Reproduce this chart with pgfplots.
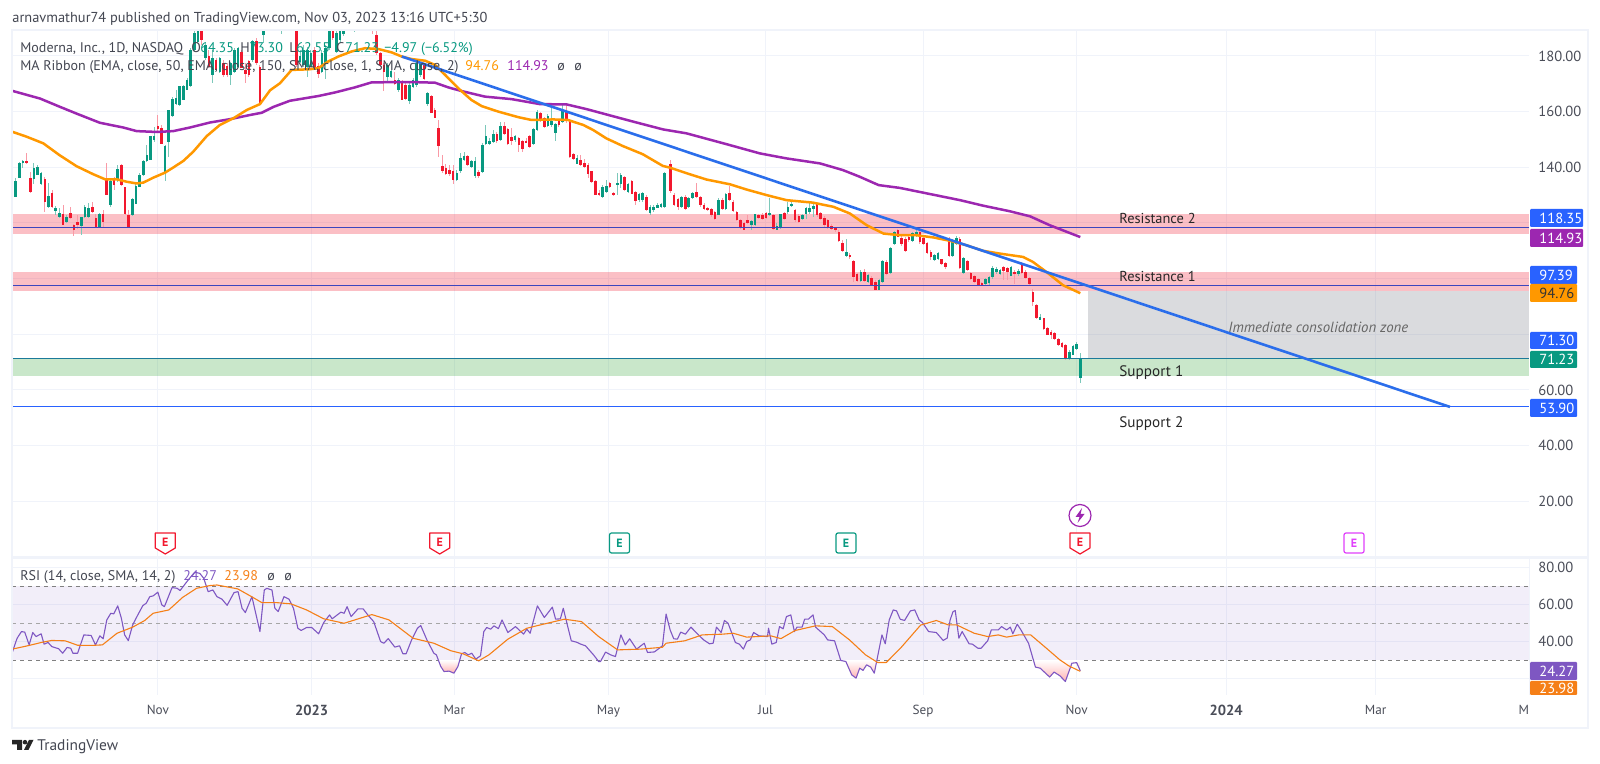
\documentclass[border=0pt]{standalone}
\usepackage{fontspec}
\usepackage{pgfplots}
\usepackage{pgfplotstable}
\pgfplotsset{compat=1.18}
\setmainfont{PT Sans}
\definecolor{tvgreen}{HTML}{089981}
\definecolor{tvred}{HTML}{F2182E}
\definecolor{wgreen}{HTML}{7CC8BA}
\definecolor{wred}{HTML}{F99AA6}
\definecolor{tvblue}{HTML}{2962FF}
\definecolor{trend}{HTML}{2B6EEB}
\definecolor{ema}{HTML}{FF9800}
\definecolor{emb}{HTML}{9C27B0}
\definecolor{rsi}{HTML}{7E57C2}
\definecolor{rsima}{HTML}{F57F17}
\definecolor{gridc}{HTML}{F0F3FA}
\definecolor{txt}{HTML}{434651}
\definecolor{axt}{HTML}{4A4D58}
\newcommand\fs{\fontsize{6.6}{8}\selectfont}
\newcommand\fl{\fontsize{7}{8}\selectfont}
\newcommand\fn{\fontsize{7.3}{8}\selectfont}
\pgfplotstableread{
x o h l c
0 138.0 139.0 132.4 133.0
1 129.6 136.0 129.4 135.1
2 136.3 142.0 136.0 141.4
3 141.6 142.5 139.9 142.2
4 142.0 145.0 141.3 141.6
5 136.2 138.4 130.9 131.2
6 136.0 141.7 133.9 139.5
7 137.5 140.8 137.1 139.9
8 134.2 138.4 133.6 137.8
9 135.7 136.6 124.0 127.6
10 125.8 134.2 125.2 129.7
11 130.5 131.8 125.2 125.8
12 124.5 126.1 122.8 125.2
13 122.4 125.2 121.9 123.4
14 123.1 126.4 119.2 119.4
15 120.4 122.8 120.0 122.2
16 123.6 125.8 121.6 121.8
17 119.2 119.8 115.3 117.4
18 120.4 122.8 118.0 119.2
19 118.9 122.2 115.6 121.9
20 122.2 126.4 121.8 125.8
21 122.2 127.0 121.8 125.4
22 125.8 127.6 123.6 124.0
23 121.6 123.4 118.6 118.8
24 118.8 123.6 118.6 123.1
25 123.1 124.6 118.6 120.4
26 135.6 141.4 130.0 130.3
27 126.4 135.4 125.8 134.8
28 135.7 136.6 131.8 133.9
29 135.4 140.8 134.8 139.2
30 140.8 141.1 133.2 133.6
31 132.7 133.0 122.8 123.4
32 122.8 124.6 118.1 118.3
33 122.8 128.8 122.4 128.4
34 127.0 134.2 126.7 133.2
35 133.2 138.1 133.0 137.2
36 137.2 142.6 136.8 142.0
37 142.3 148.0 142.0 144.4
38 142.8 151.2 142.6 151.0
39 149.8 154.6 149.2 151.0
40 154.6 158.8 152.2 154.0
41 154.2 155.2 148.2 148.6
42 138.4 148.0 135.1 147.4
43 149.2 160.6 143.8 160.6
44 158.4 165.4 157.9 164.4
45 162.7 167.8 162.4 164.8
46 162.4 169.2 162.0 169.0
47 164.4 169.6 164.2 169.0
48 168.0 172.0 167.8 171.4
49 169.2 182.8 169.0 182.2
50 182.2 188.8 181.9 188.2
51 185.2 193 184.5 191
52 188.7 190.5 184 185.7
53 179.2 184.6 178.6 184.0
54 179.8 182.2 175.6 176.2
55 173.2 182.2 170.4 179.2
56 178.3 179.2 174.7 175.2
57 174.4 179.8 174.0 179.2
58 177.4 178.6 172.6 173.2
59 176.2 177.4 172.3 173.2
60 173.2 178.0 169.6 177.4
61 174.4 182.8 173.8 182.2
62 176.2 183.4 175.6 182.8
63 181.2 182.2 175.6 175.9
64 175.0 177.4 170.2 173.8
65 178.0 178.6 172.6 173.2
66 178.6 185.8 178.0 185.2
67 185.2 186.4 176.8 177.6
68 175.9 176.8 162.7 163.0
69 187.5 194 184.5 192
70 192 194 189.5 190
71 192 197 191 196
72 196 201 195 200
73 200 202 195 196
74 191 194 188 193
75 196 197 190 193
76 193 199 192 198
77 199 201 191 194
78 195 196 176 176.8
79 177.9 182.2 177.4 179.8
80 176.8 184 176.2 182.2
81 176.2 183.4 172.6 182.2
82 176.2 182.2 176 181
83 182.2 183.4 175 175.6
84 176.2 177.4 172 173.8
85 174.4 182.2 173.8 181
86 177.4 184 171.6 182.8
87 182.8 190 182.2 189.4
88 188.8 190 185.8 186.7
89 181.6 189.4 181 188.2
90 185.8 192 184.5 190.5
91 188 193 187 191
92 194 195 190 191
93 191 196 190 195
94 195 199 188.7 198
95 198 199 194 195
96 195 198 194 197
97 197 198 192 194
98 194 197 193 196
99 196 197 187.9 192
100 187.5 195 180.4 181
101 181 181.6 176.2 176.8
102 176.8 177.4 167.5 174.4
103 172.5 177.4 170.8 176.8
104 172.5 175 172 174.4
105 171.4 174.4 169.6 170.2
106 167.8 172 167.2 171.4
107 170.8 171.4 164.2 164.4
108 169.6 170.2 164.2 164.8
109 163.9 170.2 162.7 169.6
110 169 172 168.4 171.4
111 169.6 178 169 177.4
112 173.2 178 172.6 177.4
113 176.8 177.4 171.4 172
114 162.7 167.2 162.2 166.6
115 165.6 166 159.4 159.7
116 160.6 161.2 157.6 157.9
117 154 157 143.8 147.6
118 140.4 144.4 138 138.6
119 139.6 141.1 137.2 137.8
120 139 140.8 136.9 137.8
121 138.4 140.8 133.9 135.4
122 135.4 139 135.1 138
123 138.6 145.2 138 143.2
124 142.9 145.6 142.3 144
125 143.8 144.4 140.4 140.8
126 140.2 142.6 139.9 142
127 136.9 143.8 136 142
128 138.1 139 136 136.8
129 138.4 148.6 138 148
130 148.3 155.2 148 151
131 148.3 150.4 148 149.4
132 149.2 153.4 148.8 151.9
133 151.9 152.8 148.6 149.5
134 149.8 156.4 149.4 154.6
135 154.8 156.4 151.6 152
136 153.6 154.3 148 148.3
137 150.7 154 148 149.4
138 149.8 151.6 149.2 151
139 150.4 151 145.6 148
140 149.2 149.8 145.6 146.8
141 149.5 150.4 148.6 149
142 151 151.6 146.8 147.4
143 148.3 154.3 148 153.7
144 153.4 160.6 153 159.7
145 159.4 160 156.4 156.7
146 157.6 158.2 154 154.6
147 154.8 159 154.6 158.4
148 155.2 161.2 154.6 156.4
149 152.4 156 149.5 155.4
150 156.4 157 154.6 155.2
151 156.4 162.4 156 160.6
152 160 163.2 156 157
153 156.7 157.2 143.5 143.8
154 144.7 145.2 142.6 143.2
155 141.4 144.4 141.1 143.2
156 142.6 144.4 140.4 140.8
157 141.4 142.9 139.9 140.2
158 140.8 141.4 136 137.8
159 138.4 138.7 134.2 134.8
160 135.1 135.4 130 130.3
161 130.6 131.8 129.8 130
162 129.4 133.6 129.1 133
163 131.2 135.4 130.6 133.2
164 134.2 134.8 132.4 133
165 130.6 131.2 129.6 130
166 133.8 138 130 134.2
167 134.2 138 132.4 137
168 136.4 136.8 131.5 132
169 131.2 134.4 130.8 133.8
170 135 135.6 130.3 130.6
171 130.9 131.5 126.4 127.9
172 128.2 130.8 127.6 130.3
173 128.2 131.2 127.6 130.6
174 129.4 130 124.3 124.8
175 123.6 126.4 122.8 125.5
176 124.6 126.4 124 125.8
177 125.5 127 125.2 126.4
178 125.8 127.2 125.4 126.8
179 125.8 138.4 125.4 138
180.6 141.1 142.8 130.6 131.5
181.6 130 130.6 126 126.4
182.7 128.4 129.1 124.6 126
183.7 126 129.6 125.5 129.1
184.7 129.1 130 124.6 125.2
185.6 125.8 129.4 125.4 128.8
186.7 129.1 131.2 128.6 130.6
187.7 130.9 134.4 128.8 129.4
188.8 129.1 129.6 125.8 126.4
189.8 126.4 127 124.6 125
190.8 125.3 125.8 124.3 124.8
191.8 124.8 125.3 122.2 122.8
192.8 123.7 124.3 121.2 121.6
193.8 123.1 128.8 122.8 128.2
194.8 128.2 128.8 124.6 125.2
195.8 125.2 130.6 124.8 130.2
196.8 130.8 133.2 128 128.4
197.8 127.6 128.2 124 124.3
198.8 123.7 124.3 120.7 121
199.8 121 121.6 118 118.3
200.8 119.8 120.4 117.4 117.6
201.8 121 122.8 119.5 120
202.8 119.2 121.2 117.4 120.5
203.8 119.5 123.4 119 123
204.8 122.8 123.4 121.5 122
205.8 122.8 123.6 121 121.6
206.8 123.4 123.8 121.5 122
207.8 122.8 129.1 122.4 123.4
208.8 122.8 123.4 117.4 118
209.8 117.7 120 117.4 118.8
210.8 118.4 123.4 118 123
211.8 123.4 124 121 121.6
212.8 124 127.6 123.4 125.8
213.8 126.3 128.2 125.8 126.6
214.8 124.6 125 120.4 121
215.8 122.4 123.1 120 120.4
216.8 121.6 123.4 121 122.8
217.8 123.4 125.8 121.6 125.2
218.8 124 127.6 123.4 125.2
219.8 125.2 127.2 122 126
220.8 126.8 127.2 122.2 122.8
221.8 123.4 124 121 121.6
222.8 121.6 122.4 118.6 119.2
223.8 121 121.6 118 118.6
224.8 118.8 119.5 117.4 118
225.8 118 118.6 116.8 117.4
226.8 116.8 117.4 113.2 113.5
227.8 112.6 113.8 109.6 109.9
228.8 108.4 114.4 107.8 109.6
229.8 108.4 109.2 107.2 107.8
230.8 106.4 106.8 98.8 100.6
231.8 101.4 102 98.9 99.4
232.8 99.4 103 98.9 102.4
233.8 102.4 103.6 98.9 99.4
234.8 98.8 101.8 98.4 101.2
235.8 100.2 100.8 97.2 97.6
236.8 98.8 99.4 95.8 96
237.8 96 100 95.8 99.4
238.8 98.8 106.6 98.4 106.2
239.8 106 106.6 101.2 101.6
241 102 111.4 101.6 110.8
242 112.6 117.2 112 116.6
243 117.4 118 114.8 115.2
244 114.6 115.2 111.6 112.4
245 114 114.8 109.6 110.2
246 115 115.6 113.2 113.8
247 113.6 116.8 113.2 116.2
248 115.6 117.4 115 116.8
249 116.6 117.2 112.6 113.2
250 114.4 115.6 112 112.6
251 112.6 113.2 109 109.2
252 109.6 110.2 106.8 107.8
253 106.8 109 106.4 108.4
254 107.2 109.6 106.6 109.2
255 106.8 107.2 104.8 105.4
256 105.4 106 103.4 104.2
257 114 114.8 107.8 108.4
258 108.4 114.4 107.8 113.8
259 112.6 115.2 112 114.4
260 114 114.8 103.4 103.8
261 102 107.8 101.6 107.2
262 106.4 106.8 102.8 103.2
263 101.8 102.4 99.4 100
264 100.8 101.3 98.4 98.8
265 99.6 100.4 97.2 97.6
266 98.4 98.9 97.5 98
267 98.2 100.1 97.7 99.6
268 98.4 100.8 97.6 100.4
269 100.6 104.4 100 103.6
270 102.4 104.2 101.8 103.4
271 101.8 103.6 101.2 103
272 104 104.4 99.4 102.8
273 103.6 104.2 99.6 102.4
274 101.2 104.4 100.8 104
275 102.4 103 98.2 101.8
276 101.6 103.6 101 102.8
277 105.4 106 101.6 102
278 102.4 103 99.9 100.4
279 100 100.6 97.6 98
280 95.2 96.4 90 91.6
281 90.4 90.8 85.6 86
282 85.2 87.4 85 86
283 85.6 86 81.6 82
284 82 82.6 79.6 80
285 80.8 81.4 78.4 79.8
286 80.2 80.7 77.8 78.4
287 78.2 78.5 75.9 76.2
288 76.6 77.1 74.9 75.4
289 75.9 76.4 70.8 71.2
290 71.2 74.2 70.8 73.6
291 72.8 76.2 72.4 75.8
292 74.8 77.2 74.4 76.4
293 64.35 73.30 62.55 71.23
}\candles
\begin{document}
\begin{tikzpicture}
\path[use as bounding box] (0,0) rectangle (800pt,382pt);
\begin{axis}[
  name=main, at={(6pt,103pt)}, anchor=south west, scale only axis,
  width=758.5pt, height=264pt,
  xmin=0, xmax=416.07, ymin=-0.38, ymax=189.34,
  axis line style={draw=none}, tick style={draw=none},
  xtick={40,82.2,121.3,163.6,206.7,249.9,292,333,374}, xticklabels={},
  ytick={20,40,60,80,100,120,140,160,180},
  yticklabels={20.00,40.00,60.00,,,,140.00,160.00,180.00},
  yticklabel pos=right,
  yticklabel style={anchor=west, inner sep=0pt, xshift=4.5pt, font=\fn, text=axt},
  grid=major, major grid style={color=gridc, line width=0.5pt},
]
\addplot[fill={rgb,255:red,120;green,123;blue,134}, fill opacity=.27, draw=none] coordinates {(295.1,95.6)(416.07,95.6)(416.07,71.3)(295.1,71.3)} --cycle;
\addplot[fill=tvred, fill opacity=.28, draw=none] coordinates {(0,123.2)(416.07,123.2)(416.07,116)(0,116)} --cycle;
\addplot[fill=tvred, fill opacity=.28, draw=none] coordinates {(0,102.3)(416.07,102.3)(416.07,95.6)(0,95.6)} --cycle;
\addplot[fill={rgb,255:red,76;green,175;blue,80}, fill opacity=.3, draw=none] coordinates {(0,71.3)(416.07,71.3)(416.07,65)(0,65)} --cycle;
% candles: wicks then bodies
\addplot[draw=none, mark=none, error bars/.cd, y dir=both, y explicit, error mark=none, error bar style={line width=.5pt,color=wgreen}]
  table[x=x, y expr={\thisrow{c}>=\thisrow{o} ? (\thisrow{h}+\thisrow{l})/2 : nan}, y error expr={(\thisrow{h}-\thisrow{l})/2}]{\candles};
\addplot[draw=none, mark=none, error bars/.cd, y dir=both, y explicit, error mark=none, error bar style={line width=.5pt,color=wred}]
  table[x=x, y expr={\thisrow{c}<\thisrow{o} ? (\thisrow{h}+\thisrow{l})/2 : nan}, y error expr={(\thisrow{h}-\thisrow{l})/2}]{\candles};
\addplot[draw=none, mark=none, error bars/.cd, y dir=both, y explicit, error mark=none, error bar style={line width=1.3pt,color=tvgreen}]
  table[x=x, y expr={\thisrow{c}>=\thisrow{o} ? (\thisrow{o}+\thisrow{c})/2 : nan}, y error expr={abs(\thisrow{c}-\thisrow{o})/2+0.1}]{\candles};
\addplot[draw=none, mark=none, error bars/.cd, y dir=both, y explicit, error mark=none, error bar style={line width=1.3pt,color=tvred}]
  table[x=x, y expr={\thisrow{c}<\thisrow{o} ? (\thisrow{o}+\thisrow{c})/2 : nan}, y error expr={abs(\thisrow{c}-\thisrow{o})/2+0.1}]{\candles};
% horizontal levels
\addplot[color={rgb,255:red,60;green,70;blue,190}, line width=.6pt] coordinates {(0,118.35)(416.07,118.35)};
\addplot[color={rgb,255:red,60;green,70;blue,190}, line width=.6pt] coordinates {(0,97.39)(416.07,97.39)};
\addplot[color={rgb,255:red,27;green,122;blue,154}, line width=.7pt] coordinates {(0,71.3)(416.07,71.3)};
\addplot[color=tvblue, line width=.5pt] coordinates {(0,53.9)(416.07,53.9)};
% EMA 150
\addplot[color=emb, line width=1.25pt, line join=round] coordinates {(0,167.5)(7.7,164.7)(13.2,161.7)(17.7,159.3)(24.1,156)(30.5,154.3)(34.2,153)(39.7,152.7)(44.2,153)(48.8,154.3)(54.3,156.1)(59.8,157.3)(65.3,158.8)(68.5,159.6)(71.7,161.7)(76.2,163.9)(84,165.6)(88.6,166.9)(94,168.7)(98.6,170.5)(104.1,170.6)(110.5,170.6)(116,170.4)(119.7,168.7)(123.3,167.4)(129.7,165.4)(137,164.5)(144.8,162.7)(152.1,162.6)(157.6,160.9)(163,159)(170.4,156.4)(178.6,153.6)(185,152.2)(196,148.3)(205.1,145)(212.4,143.2)(221.6,141.4)(227.9,139)(232.5,136.6)(237.7,133.6)(243.5,132.6)(260,128.2)(266.4,126.2)(273.7,124.2)(279.2,122.4)(284.6,119.2)(293,114.93)};
% EMA 50
\addplot[color=ema, line width=1.25pt, line join=round] coordinates {(0,152.8)(4,151)(8.6,148.6)(13,144.4)(17.7,140.4)(22.3,137.5)(25.5,135.7)(28.7,135.7)(31.5,134.8)(34.2,134.2)(36,134.5)(38.8,136.3)(42,138.1)(44.2,139.9)(47,142.3)(49.7,145.6)(53.4,151.2)(57,155.2)(60.7,157.6)(64.4,160.6)(68,162.7)(70.8,167.7)(73.5,170.2)(76.7,175)(81.3,175.2)(84,175.6)(86.7,178)(89.5,179.8)(93.1,181.6)(96.8,182.8)(100.5,182.5)(104.1,181.3)(106.9,179.8)(109.6,178.9)(113.3,178.3)(116,176.8)(118.8,173.2)(122.4,168.4)(126,164.2)(128.8,162)(133.4,160)(138.9,158)(142.5,157)(148.4,157.2)(152.5,157)(156.7,155.2)(159.4,153.4)(163,150.4)(167.6,147.6)(173,144.7)(178.5,140.5)(180.4,139.9)(185.9,137.5)(190.5,135.6)(196.9,133.9)(201.5,132)(207,130)(212.4,128.2)(219.7,127.3)(225.3,125.8)(229.8,123.4)(234.4,119.2)(239,116.2)(243.5,115.6)(248,115.6)(252.7,114.8)(257.2,113.6)(261.8,112)(266.3,110)(270.9,109)(277.3,107.8)(280,106)(283.7,102.4)(288.3,97.6)(293,94.76)};
% trend line
\addplot[color=trend, line width=1.3pt] coordinates {(106.9,179.8)(394.4,53.9)};
\end{axis}
\begin{axis}[
  name=rsiax, at={(6pt,34.5pt)}, anchor=south west, scale only axis,
  width=758.5pt, height=68.5pt,
  xmin=0, xmax=416.07, ymin=11.2, ymax=85.3,
  axis line style={draw=none}, tick style={draw=none},
  xtick={40,82.2,121.3,163.6,206.7,249.9,292,333,374,416.07},
  xticklabels={Nov,{\fn\textbf{2023}},Mar,May,Jul,Sep,Nov,{\fn\textbf{2024}},Mar,\makebox[0pt][r]{M}},
  xticklabel style={font=\fs, text=axt, yshift=-1.5pt},
  ytick={20,40,60,80},
  yticklabels={,40.00,60.00,80.00},
  yticklabel pos=right,
  yticklabel style={anchor=west, inner sep=0pt, xshift=4.5pt, font=\fn, text=axt},
  grid=major, major grid style={color=gridc, line width=0.5pt},
]
\addplot[fill=rsi, fill opacity=.1, draw=none] coordinates {(0,70)(416.07,70)(416.07,30)(0,30)} --cycle;
\addplot[color=gray, line width=.4pt, dash pattern=on 2pt off 2pt] coordinates {(0,70)(416.07,70)};
\addplot[color=gray!70, line width=.4pt, dash pattern=on 2pt off 2pt] coordinates {(0,50)(416.07,50)};
\addplot[color=gray, line width=.4pt, dash pattern=on 2pt off 2pt] coordinates {(0,30)(416.07,30)};
\addplot[draw=none, top color=white, bottom color=red!30] coordinates {(117,30)(117.6,26.6)(118.5,23.9)(119.9,24.1)(121.2,23)(122.3,26.6)(122.8,30)} --cycle;
\addplot[draw=none, top color=white, bottom color=red!30] coordinates {(227.1,30)(228.7,29.3)(230.3,22.1)(231.5,20.3)(232.5,25.7)(233.4,24.5)(234.4,27.5)(235.5,26.3)(236.5,23)(237.2,30)} --cycle;
\addplot[draw=none, top color=white, bottom color=red!30] coordinates {(280.1,30)(280.7,26.3)(282,25.7)(284.6,20.9)(285.8,23.6)(287.4,21.6)(288.9,18.5)(290.7,28.4)(292,28.7)(293,24.27)(293,30)} --cycle;
\addplot[color=rsi, line width=.55pt, line join=round] coordinates {(0,33.8)(1.4,41.9)(2.6,45.5)(3.5,45.2)(4.7,38.3)(5.7,45)(6.6,42.8)(8,44.3)(8.8,38.7)(9.9,39.6)(10.9,37.4)(12.8,36.2)(13.9,33.8)(15.1,36.9)(16.1,36.5)(16.7,33.8)(18,33.8)(19.7,43.7)(21.7,43.4)(22.9,38.3)(24.1,43.2)(25,41.6)(26,51.8)(27.1,55.4)(27.9,55.1)(29,59.4)(30,52.7)(30.9,43.7)(31.9,40.6)(33.1,49.1)(34.5,54.5)(35.9,59.6)(36.8,60.8)(37.8,64.4)(38.7,64.8)(40,66.8)(41.1,59.9)(41.8,59)(43.9,69.3)(45.3,68.9)(46.1,67.7)(48.2,73.1)(50.1,77.6)(51.5,77)(52.6,74.3)(53.8,67.1)(55.1,68)(56.2,64.4)(57.6,63)(59,59.7)(60.9,66.6)(62,67.1)(63.1,58.1)(64,55.8)(65.8,64.4)(68,45.5)(69.2,68)(69.9,68.9)(71.3,68)(72.1,58.1)(73,56.3)(74.6,64.4)(76,63)(77.2,58.1)(78.4,47.3)(79.3,46.1)(80.8,47.7)(82.2,47.7)(84.1,44.3)(85.5,50.4)(87.1,54.5)(87.8,52.4)(90.2,56)(91.1,55.4)(91.9,59)(93,53.6)(94.9,57.8)(96.3,57.8)(97.8,54)(99.2,50.9)(101.1,40.1)(102,39.2)(103.2,41.7)(105,37.1)(106.3,37.8)(107.2,33.5)(108.1,33.5)(109.6,41)(111.2,47.3)(112.1,48.8)(113.8,41)(115.7,33.8)(116.4,32.9)(117.6,26.6)(118.5,23.9)(119.9,24.1)(121.2,23)(122.3,26.6)(123.3,33.5)(124.2,34.2)(125.1,32.9)(126.1,33.8)(127.2,30.6)(128.5,32.4)(129.4,45.5)(130.2,47.7)(131.3,46.8)(132.2,48.6)(133.4,47.1)(134.4,51.8)(136,45)(138.1,48.2)(140.3,44.1)(141.2,46.8)(142.1,44.6)(144.1,59.4)(146,53.1)(148.2,58.7)(149.1,52.2)(150.4,52.4)(151.2,58.1)(152.2,50)(153.4,40.5)(154.8,39.8)(156,38.7)(157.3,37.8)(159.5,32.9)(160.9,29.3)(161.4,29.3)(162.8,34.4)(164.2,32.9)(165.5,32)(167,43.7)(168.2,38.3)(169.4,41.6)(171.3,36)(173.4,39.2)(174.3,34.2)(176.2,34.5)(178.4,37.8)(179.4,55)(180.5,46.4)(181.5,41.6)(182.5,41.4)(183.4,45.2)(184.7,44.1)(186.2,47.9)(188.3,43.7)(189.7,41)(191.3,38.9)(192.3,39.2)(193.2,47.9)(194.5,45)(195.4,51.5)(196.4,50)(198.4,39.6)(199.5,38.7)(200.6,36)(201.5,40.1)(202.5,41)(203.4,45)(204.9,43.2)(207.2,42.8)(207.5,47.3)(208.4,38.7)(209.6,39.6)(210.5,48.2)(211.5,47)(212.4,53.6)(213.6,54.5)(214.6,45.5)(215.3,47.9)(216.7,47.9)(217.4,52.2)(218.4,52.2)(219.7,54.5)(220.4,47.9)(222.8,43.7)(223.7,41)(225.6,40.5)(227.3,29.9)(228.7,29.3)(230.3,22.1)(231.5,20.3)(232.5,25.7)(233.4,24.5)(234.4,27.5)(235.5,26.3)(236.5,23)(238.6,43.7)(239.5,38.9)(240.6,51.8)(241.7,57.2)(242.6,56.7)(243.6,52.2)(244.8,51.5)(246.4,56.7)(247.6,57.2)(248.8,51.8)(249.7,50.4)(251.4,45.5)(253.5,45)(255.4,40.7)(256.5,42)(257.3,51.8)(258.1,56.3)(258.7,56.9)(259.7,41.9)(260.6,45.5)(262.5,38.9)(263.4,38.7)(264.9,36.5)(265.8,36.5)(267.6,40.5)(268.6,46.4)(270.5,46.4)(271.4,48.2)(272.8,46.4)(273.8,47.9)(274.5,44.3)(275.7,49.5)(276.6,46.8)(278.8,39.2)(280.7,26.3)(282,25.7)(284.6,20.9)(285.8,23.6)(287.4,21.6)(288.9,18.5)(290.7,28.4)(292,28.7)(293,24.27)};
\addplot[color=rsima, line width=.55pt, line join=round] coordinates {(0,36)(2.4,37)(4.7,38)(8,39.6)(10.9,40.7)(14.6,40.5)(18,38.1)(21.7,38)(24.8,38.3)(28.8,44.6)(33.1,47.9)(36.4,51.5)(38.7,55.4)(43,57.2)(46.8,64)(50.6,68.9)(54.3,70.4)(56.2,70.7)(61.9,68.6)(65.7,64.4)(68.5,61.2)(72.3,61.2)(76.5,60.5)(80.8,57.2)(85.5,52.4)(91.1,50)(98.7,54.7)(103.4,51.8)(110,41.9)(115.7,39.2)(120.4,35.1)(123.7,33.5)(128,29.7)(130.8,32.9)(136,41.4)(141.2,47.3)(144.9,49.1)(151.5,52.2)(156.2,50.9)(160.9,42.8)(166.1,35.6)(172.3,36)(178.4,37)(179.4,39.2)(184.5,40.5)(189.3,43.7)(194.9,44.1)(197.8,44.6)(201.5,42.5)(208.1,43.2)(210.9,41.7)(214.8,46.1)(220.4,48.6)(225,48.2)(229.7,41)(234.1,32.9)(237.4,28.8)(239.8,28.8)(243.9,37)(249.2,49)(253.5,51.5)(256.8,49.1)(259.1,49.1)(263.9,44.6)(267.6,42.8)(270.5,43.7)(272.8,42.5)(276.1,43.7)(279.4,43.7)(283.7,36.5)(287.4,30.2)(289.8,27)(293,23.98)};
\end{axis}
% overlay in image pixels
\begin{scope}[x=.5pt,y=-.5pt,yshift=382pt]
% frame
\draw[color=gridc, line width=.8pt] (12,30) -- (1588,30) -- (1588,728) -- (12,728) -- cycle;
\draw[color=gridc, line width=1.4pt] (12,557.5) -- (1588,557.5);
% header
\node[anchor=base west,inner sep=0,text=txt,font=\fontsize{7.2}{8}\selectfont] at (12,23) {arnavmathur74 published on TradingView.com, Nov 03, 2023 13:16 UTC+5:30};
% legends
\node[anchor=base west,inner sep=0,text=txt,font=\fl] at (20,52.5) {Moderna, Inc., 1D, NASDAQ};
\node[anchor=base west,inner sep=0,text=txt,font=\fl] at (191,52.5) {O};
\node[anchor=base west,inner sep=0,text=tvgreen,font=\fl] at (200,52.5) {64.35};
\node[anchor=base west,inner sep=0,text=txt,font=\fl] at (240,52.5) {H};
\node[anchor=base west,inner sep=0,text=tvgreen,font=\fl] at (249,52.5) {73.30};
\node[anchor=base west,inner sep=0,text=txt,font=\fl] at (289,52.5) {L};
\node[anchor=base west,inner sep=0,text=tvgreen,font=\fl] at (296,52.5) {62.55};
\node[anchor=base west,inner sep=0,text=txt,font=\fl] at (336,52.5) {C};
\node[anchor=base west,inner sep=0,text=tvgreen,font=\fl] at (345,52.5) {71.23};
\node[anchor=base west,inner sep=0,text=tvgreen,font=\fl] at (384,52.5) {−4.97 (−6.52\%)};
\node[anchor=base west,inner sep=0,text=txt,font=\fl] at (20,71) {MA Ribbon (EMA, close, 50, EMA, close, 150, SMA, close, 1, SMA, close, 2)};
\node[anchor=base west,inner sep=0,text=ema,font=\fl] at (465,71) {94.76};
\node[anchor=base west,inner sep=0,text=emb,font=\fl] at (507,71) {114.93};
\node[anchor=base west,inner sep=0,text=txt,font=\fl] at (557,71) {ø};
\node[anchor=base west,inner sep=0,text=txt,font=\fl] at (574,71) {ø};
\node[anchor=base west,inner sep=0,text=txt,font=\fl] at (20,580.5) {RSI (14, close, SMA, 14, 2)};
\node[anchor=base west,inner sep=0,text=rsi,font=\fl] at (183,580.5) {24.27};
\node[anchor=base west,inner sep=0,text=rsima,font=\fl] at (224,580.5) {23.98};
\node[anchor=base west,inner sep=0,text=txt,font=\fl] at (267,580.5) {ø};
\node[anchor=base west,inner sep=0,text=txt,font=\fl] at (284,580.5) {ø};
% drawing labels
\node[anchor=base west,inner sep=0,text=black!85,font=\fontsize{7.2}{9}\selectfont] at (1119,224) {Resistance 2};
\node[anchor=base west,inner sep=0,text=black!85,font=\fontsize{7.2}{9}\selectfont] at (1119,282) {Resistance 1};
\node[anchor=base west,inner sep=0,text=black!85,font=\fontsize{7.6}{9}\selectfont] at (1119,377) {Support 1};
\node[anchor=base west,inner sep=0,text=black!85,font=\fontsize{7.6}{9}\selectfont] at (1119,428) {Support 2};
\node[anchor=base west,inner sep=0,text=black!60,font=\fontsize{7.4}{8}\selectfont\itshape] at (1228,333) {Immediate consolidation zone};
% price boxes
\foreach \ya/\yb/\xe/\col/\tc/\lab in {209/227/1583/tvblue/white/118.35,229/247/1583/emb/white/114.93,266/284/1577/tvblue/white/97.39,284/302/1577/ema/black!80/94.76,332/349/1577/tvblue/white/71.30,351/368/1577/tvgreen/white/71.23,399/417/1577/tvblue/white/53.90,662/680/1577/rsi/white/24.27,681/695/1577/rsima/white/23.98}{
  \fill[color=\col,rounded corners=.5pt] (1530,\ya) rectangle (\xe,\yb);
  \node[anchor=west,inner sep=0,text=\tc,font=\fn] at (1539,{(\ya+\yb)/2}) {\lab};
}
% E badges
\foreach \cx in {165.3,439.7,1080}{
  \draw[color=tvred,line width=.6pt,line join=round,fill=white] (\cx-10,533) -- (\cx+10,533) -- (\cx+10,548) -- (\cx,554) -- (\cx-10,548) -- cycle;
  \node[text=tvred,inner sep=0,font=\fontsize{6}{7}\selectfont\bfseries] at (\cx,542.5) {E};
}
\foreach \cx/\col in {619.5/tvgreen,846/tvgreen}{
  \draw[color=\col,line width=.6pt,fill=white,rounded corners=1pt] (\cx-10,533) rectangle (\cx+10,553);
  \node[text=\col,inner sep=0,font=\fontsize{6}{7}\selectfont\bfseries] at (\cx,543) {E};
}
\definecolor{mag}{HTML}{E040FB}
\draw[color=mag,line width=.6pt,fill=white,rounded corners=1pt] (1344,533) rectangle (1364,553);
\node[text=mag,inner sep=0,font=\fontsize{6}{7}\selectfont\bfseries] at (1354,543) {E};
% split icon
\draw[color=emb,line width=.6pt,fill=white] (1080,515.5) circle [radius=11];
\fill[color=emb] (1082,508) -- (1075.5,517) -- (1079.5,517) -- (1077.5,523) -- (1084.5,514) -- (1080.5,514) -- cycle;
% logo
\fill[color=black!85] (12,740) -- (22,740) -- (22,750) -- (17,750) -- (17,744.5) -- (12,744.5) -- cycle;
\fill[color=black!85] (25,742.2) circle [radius=2.3];
\fill[color=black!85] (29,740) -- (33.5,740) -- (28.5,750) -- (24,750) -- cycle;
\node[anchor=base west,inner sep=0,text=txt,font=\fontsize{7.7}{10}\selectfont] at (37,751) {TradingView};
\end{scope}
\end{tikzpicture}
\end{document}
